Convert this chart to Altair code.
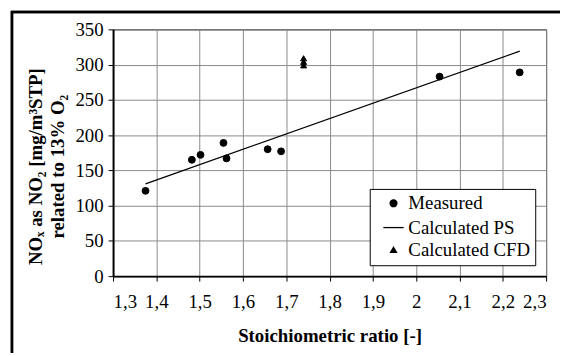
import altair as alt
import pandas as pd

# Data
measured_x = [1.375, 1.482, 1.502, 1.555, 1.562, 1.657, 1.688, 2.054, 2.239]
measured_y = [121, 165, 172, 189, 167, 180, 177, 283, 289]
ps_x = [1.375, 2.239]
ps_y = [131, 319]
cfd_x = [1.74, 1.74, 1.74]
cfd_y = [299, 304, 309]

series_names = ["Measured", "Calculated PS", "Calculated CFD"]
x_ticks = [1.3, 1.4, 1.5, 1.6, 1.7, 1.8, 1.9, 2.0, 2.1, 2.2, 2.3]
y_ticks = [0, 50, 100, 150, 200, 250, 300, 350]

pts = pd.DataFrame({
    "x": measured_x + cfd_x,
    "y": measured_y + cfd_y,
    "Series": ["Measured"] * len(measured_x) + ["Calculated CFD"] * len(cfd_x),
})
line_df = pd.DataFrame({"x": ps_x, "y": ps_y})

FONT = "Liberation Serif, Times New Roman, serif"

x_scale = alt.Scale(domain=[1.3, 2.3], nice=False, zero=False)
y_scale = alt.Scale(domain=[0, 350], nice=False)

x_enc = alt.X("x:Q", scale=x_scale, axis=alt.Axis(
    values=x_ticks, title="Stoichiometric ratio [-]",
    labelExpr="replace(format(datum.value, '~g'), '.', ',')",
    titleY=60, titleBaseline="middle"))
y_enc = alt.Y("y:Q", scale=y_scale, axis=alt.Axis(
    values=y_ticks, title=["NOₓ as NO₂ [mg/m³STP]", "related to 13% O₂"],
    titleAngle=270, titleX=-78, titleY=138, titleAlign="center",
    titleBaseline="middle", titleLineHeight=22))

border_top = alt.Chart(line_df).mark_rule(
    color="black", strokeWidth=2.5, clip=False
).encode(x=alt.value(-103), x2=alt.value(470), y=alt.value(-17.5))
border_left = alt.Chart(line_df).mark_rule(
    color="black", strokeWidth=2.5, clip=False
).encode(x=alt.value(-102), y=alt.value(-18.5), y2=alt.value(350))

line = alt.Chart(line_df).mark_line(color="black", strokeWidth=1.3).encode(
    x=x_enc, y=y_enc,
)

points = alt.Chart(pts).mark_point(
    filled=True, fill="black", stroke="black", strokeWidth=1, opacity=1
).encode(
    x=x_enc, y=y_enc,
    shape=alt.Shape("Series:N", scale=alt.Scale(
        domain=series_names, range=["circle", "stroke", "triangle-up"]),
        legend=alt.Legend(title=None, orient="none", legendX=259, legendY=161,
                          fillColor="white", strokeColor="black", padding=5,
                          symbolOffset=8, labelFontSize=19, labelFont=FONT,
                          labelColor="black", rowPadding=3,
                          symbolStrokeColor="black", symbolFillColor="black",
                          symbolStrokeWidth=1.3)),
    size=alt.Size("Series:N", scale=alt.Scale(
        type="ordinal", domain=series_names, range=[48, 420, 36]),
        legend=alt.Legend(title=None, orient="none", legendX=259, legendY=161)),
)

chart = alt.layer(border_top, border_left, line, points).properties(
    width=437, height=249,
    autosize=alt.AutoSizeParams(type="none"),
    padding={"left": 106, "top": 20, "right": 14, "bottom": 76},
).configure(
    font=FONT
).configure_view(
    stroke="black", strokeWidth=1
).configure_axis(
    grid=True, gridColor="#8a8a8a", gridWidth=1,
    domainColor="black", domainWidth=2,
    tickColor="black", tickSize=5, tickWidth=1,
    labelFont=FONT, labelFontSize=19, labelColor="black", labelPadding=5,
    titleFont=FONT, titleFontSize=19, titleFontWeight="bold", titleColor="black",
).configure_axisX(labelPadding=12).configure_legend(
    labelFont=FONT
)

chart.save("out.html", embed_options={"renderer": "svg", "actions": False})
